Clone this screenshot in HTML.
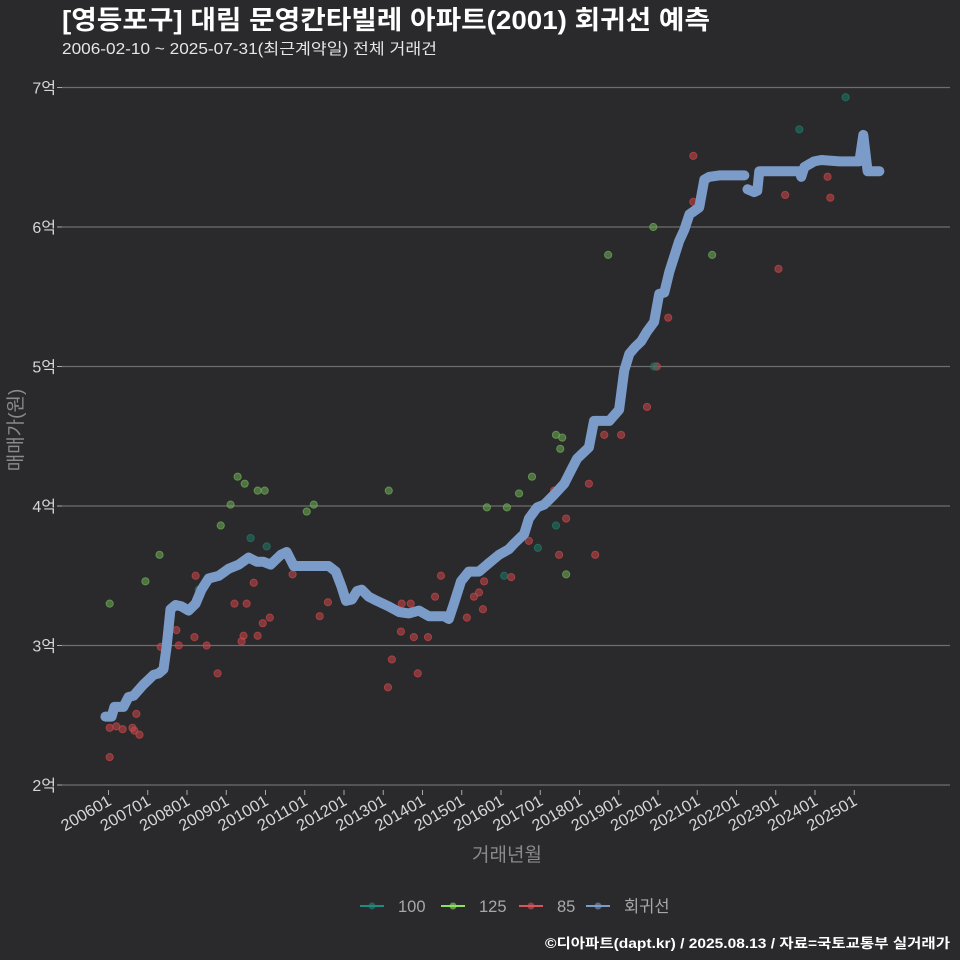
<!DOCTYPE html>
<html><head><meta charset="utf-8"><style>
html,body{margin:0;padding:0;background:#2a292b;}
svg{display:block;font-family:"Liberation Sans","Noto Sans CJK KR",sans-serif;}
</style></head><body>
<svg width="960" height="960" viewBox="0 0 960 960" id="c">
<rect x="0" y="0" width="960" height="960" fill="#2a292b"/>
<text x="62" y="29" fill="#ffffff" font-size="26" font-weight="bold" textLength="648" lengthAdjust="spacingAndGlyphs">[영등포구] 대림 문영칸타빌레 아파트(2001) 회귀선 예측</text>
<text x="62" y="54" fill="#e6e6e6" font-size="15.5" textLength="375" lengthAdjust="spacingAndGlyphs">2006-02-10 ~ 2025-07-31(최근계약일) 전체 거래건</text>
<g id="grid"></g>
<g id="pts"></g>
<g id="line"></g>
<g id="axes"></g>
<text transform="translate(22,430) rotate(-90)" text-anchor="middle" fill="#8a8a8a" font-size="19">매매가(원)</text>
<text x="507" y="861" text-anchor="middle" fill="#8a8a8a" font-size="19">거래년월</text>
<g id="legend"></g>
<text x="950" y="948" text-anchor="end" fill="#ffffff" font-size="13.5" font-weight="bold" textLength="405" lengthAdjust="spacingAndGlyphs">©디아파트(dapt.kr) / 2025.08.13 / 자료=국토교통부 실거래가</text>
</svg>
<script>
const yTicks=[2,3,4,5,6,7];
const yTickLabels=["2억","3억","4억","5억","6억","7억"];
const xTickYears=[2006,2007,2008,2009,2010,2011,2012,2013,2014,2015,2016,2017,2018,2019,2020,2021,2022,2023,2024,2025];
const xTickLabels=["200601","200701","200801","200901","201001","201101","201201","201301","201401","201501","201601","201701","201801","201901","202001","202101","202201","202301","202401","202501"];
const lineT1=[2005.92,2006.08,2006.15,2006.38,2006.51,2006.64,2006.89,2007.15,2007.28,2007.40,2007.48,2007.58,2007.71,2007.86,2008.04,2008.22,2008.37,2008.55,2008.81,2009.06,2009.32,2009.57,2009.78,2009.95,2010.13,2010.39,2010.54,2010.72,2010.85,2011.61,2011.79,2011.94,2012.05,2012.20,2012.33,2012.45,2012.63,2012.84,2013.14,2013.40,2013.65,2013.91,2014.16,2014.55,2014.67,2014.80,2014.98,2015.18,2015.44,2015.69,2015.95,2016.20,2016.33,2016.59,2016.71,2016.92,2017.10,2017.35,2017.61,2017.79,2017.94,2018.24,2018.37,2018.76,2019.01,2019.14,2019.27,2019.42,2019.57,2019.72,2019.90,2020.03,2020.16,2020.29,2020.54,2020.67,2020.80,2021.05,2021.18,2021.31,2021.56,2022.07,2022.20];
const lineV1=[2.49,2.49,2.56,2.56,2.63,2.64,2.72,2.79,2.80,2.83,2.99,3.26,3.29,3.28,3.25,3.30,3.40,3.48,3.50,3.55,3.58,3.63,3.60,3.60,3.58,3.65,3.67,3.57,3.57,3.57,3.53,3.42,3.32,3.33,3.39,3.40,3.35,3.32,3.28,3.24,3.23,3.25,3.21,3.21,3.19,3.30,3.46,3.53,3.53,3.59,3.65,3.69,3.73,3.80,3.91,3.99,4.01,4.08,4.16,4.26,4.34,4.42,4.61,4.61,4.69,4.97,5.09,5.14,5.18,5.25,5.32,5.52,5.53,5.68,5.90,5.98,6.09,6.14,6.34,6.36,6.37,6.37,6.37];
const lineT2=[2022.28,2022.45,2022.53,2022.58,2022.84,2023.60,2023.65,2023.73,2023.98,2024.16,2024.62,2025.13,2025.23,2025.34,2025.64];
const lineV2=[6.27,6.25,6.26,6.40,6.40,6.40,6.36,6.43,6.47,6.48,6.47,6.47,6.66,6.40,6.40];
const g125T=[2006.03,2006.94,2007.30,2008.86,2009.11,2009.29,2009.47,2009.80,2009.98,2011.05,2011.23,2013.14,2015.64,2016.15,2016.46,2016.79,2017.40,2017.56,2017.51,2017.66,2018.73,2019.88,2021.38];
const g125V=[3.30,3.46,3.65,3.86,4.01,4.21,4.16,4.11,4.11,3.96,4.01,4.11,3.99,3.99,4.09,4.21,4.51,4.49,4.41,3.51,5.80,6.00,5.80];
const g100T=[2009.62,2010.03,2008.30,2016.94,2017.40,2023.60,2024.78,2016.08,2019.90];
const g100V=[3.77,3.71,3.40,3.70,3.86,6.70,6.93,3.50,5.00];
const g85T=[2006.03,2006.03,2006.20,2006.36,2006.61,2006.66,2006.71,2006.79,2007.33,2007.73,2007.79,2008.19,2008.22,2008.50,2008.78,2009.21,2009.39,2009.44,2009.52,2009.70,2009.80,2009.93,2010.11,2010.69,2011.38,2011.59,2013.12,2013.22,2013.45,2013.47,2013.70,2013.78,2013.88,2014.14,2014.32,2014.47,2015.13,2015.31,2015.44,2015.54,2015.57,2015.69,2016.26,2016.71,2017.35,2017.48,2017.66,2018.24,2018.40,2018.63,2019.06,2019.72,2019.97,2020.26,2020.90,2020.90,2023.07,2023.24,2024.32,2024.39];
const g85V=[2.41,2.20,2.42,2.40,2.41,2.39,2.51,2.36,2.99,3.11,3.00,3.06,3.50,3.00,2.80,3.30,3.03,3.07,3.30,3.45,3.07,3.16,3.20,3.51,3.21,3.31,2.70,2.90,3.10,3.30,3.30,3.06,2.80,3.06,3.35,3.50,3.20,3.35,3.38,3.26,3.46,3.60,3.49,3.75,4.11,3.65,3.91,4.16,3.65,4.51,4.51,4.71,5.00,5.35,6.51,6.18,5.70,6.23,6.36,6.21];

const NS="http://www.w3.org/2000/svg";
const X=t=>108.5+(t-2006)*39.25;
const Y=v=>785-(v-2)*139.5;
function mk(tag,attrs,parent){const e=document.createElementNS(NS,tag);for(const k in attrs)e.setAttribute(k,attrs[k]);parent.appendChild(e);return e;}
const grid=document.getElementById('grid'),axes=document.getElementById('axes');
yTicks.forEach((v,i)=>{
  const l=mk('line',{x1:62,x2:950,y1:Y(v),y2:Y(v),stroke:'#6e6e6e','stroke-width':1.2},grid);
  
  
  const tk=mk('line',{x1:57,x2:62,y1:Y(v),y2:Y(v),stroke:'#aaa'},axes);
  
  
  const t=mk('text',{x:56,y:Y(v)+6,'text-anchor':'end',fill:'#d6d6d6','font-size':16},axes);
  t.textContent=yTickLabels[i];
  
  
});
xTickYears.forEach((yr,i)=>{
  const x=X(yr);
  const tk=mk('line',{x1:x,x2:x,y1:790,y2:795,stroke:'#aaa'},axes);
  
  
  const t=mk('text',{x:x+4,y:804,'text-anchor':'end',fill:'#d6d6d6','font-size':16,textLength:55,lengthAdjust:'spacingAndGlyphs',transform:`rotate(-30 ${x+4} 804)`},axes);
  t.textContent=xTickLabels[i];
  
  
});
const pts=document.getElementById('pts');
function scatter(T,V,color,name){T.forEach((t,i)=>{
  const c=mk('circle',{cx:X(t),cy:Y(V[i]),r:3.6,fill:color,'fill-opacity':0.55,stroke:color,'stroke-opacity':0.7},pts);
  
  
});}
scatter(g85T,g85V,'#c8474a','point-85');
scatter(g125T,g125V,'#6fae57','point-125');
scatter(g100T,g100V,'#1f7a68','point-100');
const lg=document.getElementById('line');
function path(T,V){const d=T.map((t,i)=>(i?'L':'M')+X(t).toFixed(1)+','+Y(V[i]).toFixed(1)).join('');
  const p=mk('path',{d:d,fill:'none',stroke:'#7b9cc9','stroke-width':10,'stroke-linejoin':'round','stroke-linecap':'round'},lg);
  
  }
path(lineT1,lineV1);path(lineT2,lineV2);
const legend=document.getElementById('legend');
const items=[['100','#1f8a80',360],['125','#8ee060',441],['85','#d8555a',519],['회귀선','#7b9cc9',586]];
items.forEach(([lab,col,x])=>{
  const g=mk('g',{},legend);
  
  
  mk('line',{x1:x,x2:x+24,y1:906,y2:906,stroke:col,'stroke-width':2},g);
  mk('circle',{cx:x+12,cy:906,r:3.5,fill:col,'fill-opacity':0.6},g);
  const t=mk('text',{x:x+38,y:912,fill:'#a8a8a8','font-size':16.5},g);
  t.textContent=lab;
});
</script>
</body></html>
